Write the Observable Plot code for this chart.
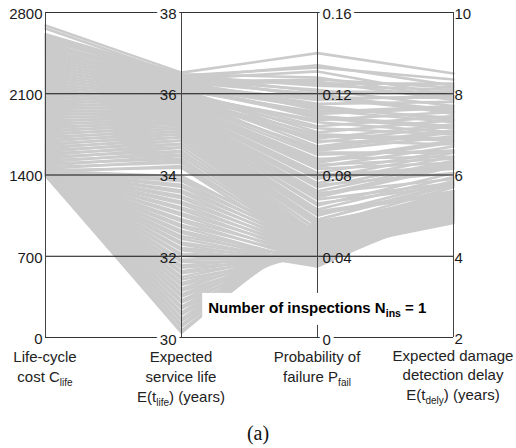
<!DOCTYPE html>
<html><head><meta charset="utf-8">
<script src="https://cdn.jsdelivr.net/npm/d3@7"></script>
<script src="https://cdn.jsdelivr.net/npm/@observablehq/plot@0.6"></script>
<style>
body{margin:0;background:#fff;}
#chart{width:516px;height:448px;}
</style></head><body><div id="chart"></div>
<script>
const FONT = "'Liberation Sans', Arial, Helvetica, sans-serif";

// axis ticks and labels
const costTicks  = [0, 700, 1400, 2100, 2800];
const lifeTicks  = [30, 32, 34, 36, 38];
const pfailTicks = [0, 0.04, 0.08, 0.12, 0.16];
const delayTicks = [2, 4, 6, 8, 10];
const costTickLabels  = ["0", "700", "1400", "2100", "2800"];
const lifeTickLabels  = ["30", "32", "34", "36", "38"];
const pfailTickLabels = ["0", "0.04", "0.08", "0.12", "0.16"];
const delayTickLabels = ["2", "4", "6", "8", "10"];

// Pareto solutions (N_ins = 1)
const cost = [
 2688,2662,2612,2598,2585,2570,2556,2541,2527,2512,2498,2483,2469,2455,2440,2426,2411,2397,2382,2368,
 2353,2339,2324,2310,2295,2281,2266,2252,2237,2223,2208,2194,2179,2165,2150,2136,2121,2107,2092,2078,
 2063,2049,2034,2020,2005,1991,1976,1962,1947,1933,1918,1904,1889,1875,1860,1846,1831,1817,1802,1788,
 1773,1759,1744,1730,1715,1701,1686,1672,1657,1643,1628,1614,1599,1585,1570,1556,1541,1527,1512,1498,
 1483,1469,1454,1440,1425,
 1397,1398,1396,1399,1400,1398,1401,1402,1400,1403,1404,1402,1405,1406,1404,1407,1408,1406,1409,1410,
 1408,1411,1412,1410,1413,1414,1412,1415,1416,1414,1417,1418,1416,1419,1420,1418,1421,1422,1420,1423,
 1424,1422,1425,1426,1424,1427,1428,1426,1429,1430,1428,1431,1432,1430,1433
];
const life = [
 36.52,36.45,36.48,36.40,36.44,36.36,36.46,36.30,36.41,36.33,36.38,36.27,36.35,36.24,36.31,36.20,36.28,36.16,36.25,36.12,
 36.21,36.08,36.17,36.04,36.13,36.00,36.09,35.96,36.05,35.92,36.01,35.88,35.97,35.84,35.93,35.80,35.89,35.76,35.85,35.72,
 35.81,35.68,35.77,35.63,35.72,35.58,35.67,35.53,35.62,35.48,35.57,35.43,35.52,35.38,35.46,35.32,35.41,35.26,35.35,35.20,
 35.29,35.14,35.22,35.07,35.15,35.00,35.08,34.93,35.01,34.85,34.93,34.77,34.85,34.68,34.76,34.59,34.67,34.50,34.57,34.40,
 34.47,34.30,34.36,34.18,34.22,
 30.12,30.17,30.27,30.31,30.41,30.46,30.56,30.61,30.71,30.76,30.86,30.91,31.01,31.06,31.15,31.20,31.29,31.34,31.43,31.49,
 31.58,31.63,31.72,31.77,31.86,31.91,32.01,32.06,32.15,32.20,32.29,32.34,32.43,32.49,32.58,32.63,32.72,32.77,32.86,32.91,
 33.01,33.06,33.15,33.20,33.29,33.34,33.43,33.48,33.57,33.62,33.71,33.76,33.85,33.90,33.97
];
const pfail = [
 0.140,0.133,0.128,0.134,0.124,0.131,0.121,0.127,0.118,0.122,0.125,0.115,0.119,0.126,0.112,0.117,0.120,0.110,0.114,0.118,
 0.108,0.111,0.113,0.104,0.109,0.106,0.101,0.107,0.099,0.103,0.096,0.100,0.094,0.097,0.091,0.093,0.098,0.088,0.092,0.086,
 0.090,0.083,0.087,0.081,0.085,0.079,0.084,0.076,0.080,0.074,0.078,0.071,0.075,0.069,0.072,0.066,0.070,0.063,0.068,0.061,
 0.065,0.058,0.062,0.056,0.060,0.053,0.057,0.051,0.055,0.049,0.053,0.048,0.051,0.046,0.050,0.045,0.048,0.044,0.047,0.043,
 0.046,0.042,0.045,0.041,0.044,
 0.058,0.056,0.054,0.057,0.052,0.055,0.050,0.053,0.048,0.051,0.046,0.049,0.045,0.047,0.043,0.046,0.042,0.044,0.041,0.043,
 0.040,0.042,0.039,0.041,0.038,0.040,0.037,0.039,0.036,0.038,0.035,0.037,0.036,0.038,0.035,0.037,0.036,0.039,0.037,0.040,
 0.038,0.041,0.039,0.042,0.040,0.043,0.041,0.044,0.042,0.045,0.043,0.046,0.044,0.047,0.045
];
const delay = [
 8.50,8.35,7.90,8.20,8.10,7.95,8.05,8.15,7.55,7.70,8.25,7.80,7.60,7.85,7.30,7.95,7.50,7.65,7.35,7.90,
 7.15,7.70,7.40,7.45,7.20,7.05,7.35,7.55,6.85,7.00,7.20,6.90,7.10,6.75,6.55,7.05,7.25,6.45,6.95,6.80,
 6.60,6.30,6.85,6.60,6.40,6.15,6.70,6.45,6.20,6.35,6.55,5.90,6.05,6.20,6.30,5.75,6.25,5.95,5.80,5.55,
 6.05,5.80,5.60,5.40,5.85,5.60,5.45,5.20,5.70,5.45,5.30,5.10,5.55,5.35,5.20,5.00,5.40,4.90,5.10,4.82,
 5.35,5.20,4.95,5.15,5.05,
 5.75,5.45,5.60,5.40,5.55,5.35,5.50,5.25,5.45,5.20,5.35,5.10,5.30,5.00,5.25,4.95,5.20,4.90,5.15,4.85,
 5.20,4.90,5.15,4.95,5.10,5.00,5.15,5.05,5.20,5.05,5.25,5.15,5.25,5.10,5.30,5.20,5.15,5.05,5.25,5.10,
 5.20,5.05,5.30,5.15,5.35,5.10,5.40,5.20,5.45,5.25,5.50,5.30,5.55,5.35,5.60
];

// axis titles: segments [text, isSubscript]
const axisTitles = [
  [[["Life-cycle",0]], [["cost C",0],["life",1]]],
  [[["Expected",0]], [["service life",0]], [["E(t",0],["life",1],[") (years)",0]]],
  [[["Probability of",0]], [["failure P",0],["fail",1]]],
  [[["Expected damage",0]], [["detection delay",0]], [["E(t",0],["dely",1],[") (years)",0]]]
];
const annotationParts = [["Number of inspections N",0],["ins",1],[" = 1",0]];
const panelLabel = "(a)";

// ---- build tables
const series = [cost, life, pfail, delay];
const tickSets = [costTicks, lifeTicks, pfailTicks, delayTicks];
const tickLabelSets = [costTickLabels, lifeTickLabels, pfailTickLabels, delayTickLabels];
const norm = tickSets.map(t => d3.scaleLinear().domain([t[0], t[t.length-1]]).range([0, 1]));

const rows = [];
cost.forEach((_, i) => {
  for (let k = 0; k < 4; k++) rows.push({id: i, k, v: norm[k](series[k][i])});
});
const ticks = [];
tickSets.forEach((t, k) => t.forEach((val, j) => ticks.push({k, j, v: norm[k](val), label: tickLabelSets[k][j]})));

const tickStyle = [
  {textAnchor: "end", dx: -3},
  {textAnchor: "end", dx: -5},
  {textAnchor: "start", dx: 5},
  {textAnchor: "start", dx: 1}
];
const tickMarks = [];
tickStyle.forEach((s, k) => {
  const ts = ticks.filter(t => t.k === k);
  const dyOf = t => (t.j === 0 && k > 0 ? (k === 3 ? 1.5 : 3) : 1.5);
  for (const t of ts) {
    if ((k === 1 || k === 2) && (t.j === 0 || t.j === 4)) {
      tickMarks.push(Plot.text([t], {x: "k", y: "v", text: "label", textAnchor: s.textAnchor, dx: s.dx, dy: dyOf(t),
        fontSize: 15, fill: "white", stroke: "white", strokeWidth: 7}));
    }
    tickMarks.push(Plot.text([t], {x: "k", y: "v", text: "label", textAnchor: s.textAnchor, dx: s.dx, dy: dyOf(t),
      fontSize: 15, fill: "#1a1a1a"}));
  }
});

const chart = Plot.plot({
  width: 516, height: 448,
  marginLeft: 45, marginRight: 63, marginTop: 12, marginBottom: 111,
  x: {domain: [0, 3], axis: null},
  y: {domain: [0, 1], axis: null},
  style: {fontFamily: FONT, fontSize: "15px", background: "white", overflow: "visible"},
  marks: [
    Plot.line(rows, {x: "k", y: "v", z: "id", stroke: "#cbcbcb", strokeWidth: 2.6}),
    Plot.ruleY([0.25, 0.5, 0.75], {stroke: "#111", strokeWidth: 1}),
    Plot.ruleX([0, 1, 2, 3], {stroke: "#444", strokeWidth: 1}),
    Plot.ruleY([0, 1], {stroke: "#333", strokeWidth: 1}),
    ...tickMarks
  ]
});
document.getElementById("chart").appendChild(chart);

const sx = chart.scale("x"), sy = chart.scale("y");
const svg = d3.select(chart);

function addParts(textSel, parts, subSize) {
  let shifted = false;
  parts.forEach(([str, sub]) => {
    const ts = textSel.append("tspan").text(str);
    if (sub && !shifted) { ts.attr("font-size", subSize).attr("dy", 4); shifted = true; }
    else if (!sub && shifted) { ts.attr("dy", -4); shifted = false; }
  });
}

// axis titles
const gT = svg.append("g").attr("font-family", FONT).attr("font-size", 15).attr("fill", "#222").attr("text-anchor", "middle");
axisTitles.forEach((lines, k) => {
  const base = sy.apply(0) + (k === 3 ? 24 : 25);
  const lh = k === 3 ? 19.3 : 20;
  lines.forEach((parts, i) => {
    const t = gT.append("text").attr("x", sx.apply(k)).attr("y", base + i * lh);
    addParts(t, parts, 10);
  });
});

// annotation with white box
const gA = svg.append("g").attr("text-anchor", "start");
const at = gA.append("text").attr("x", sx.apply(1.2)).attr("y", sy.apply(0.074)).attr("text-anchor", "start")
  .attr("font-family", FONT).attr("font-size", 15).attr("font-weight", "bold").attr("fill", "#000");
addParts(at, annotationParts, 10.5);
const bb = at.node().getBBox();
gA.insert("rect", "text").attr("x", bb.x - 6).attr("y", bb.y - 6).attr("width", bb.width + 10).attr("height", bb.height + 12).attr("fill", "white");

// panel label
svg.append("text").attr("x", (sx.apply(0) + sx.apply(3)) / 2 + 9).attr("y", sy.apply(0) + 103)
  .attr("font-family", "'Liberation Serif', 'Times New Roman', serif").attr("font-size", 20)
  .attr("text-anchor", "middle").attr("fill", "#111").text(panelLabel);
</script>
</body></html>
